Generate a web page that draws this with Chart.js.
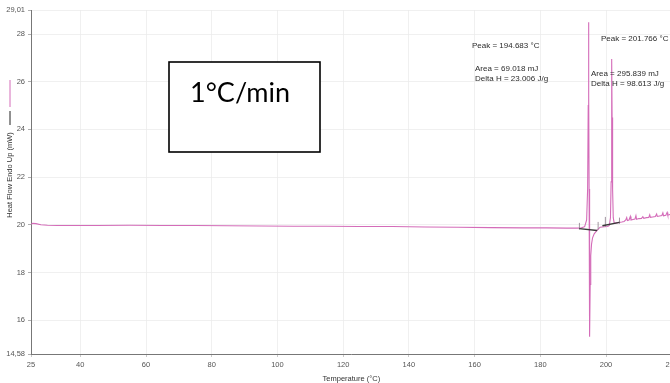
<!DOCTYPE html>
<html>
<head>
<meta charset="utf-8">
<script src="https://cdn.jsdelivr.net/npm/chart.js@4/dist/chart.umd.min.js"></script>
<style>
  html, body { margin: 0; padding: 0; background: #fff; overflow: hidden; }
  #wrap { position: relative; width: 681px; height: 383px; }
</style>
</head>
<body>
<div id="wrap"><canvas id="dsc"></canvas></div>
<script>
// DSC scan, 1 °C/min: temperature (°C) and heat flow (mW)
const temperature = [
  25, 25.5, 26.5, 28, 30, 33, 37, 45, 55, 65, 75, 85, 95, 105, 115, 125, 135, 145, 155, 165,
  175, 182, 188, 191, 192.5, 193.5, 194.1, 194.4, 194.58, 194.683, 194.76, 194.85, 194.92, 195.0, 195.08,
  195.18, 195.35, 195.6, 195.9, 196.4, 197.0, 197.5, 198.2, 199.5, 200.5, 201.0, 201.35, 201.55, 201.68, 201.766,
  201.85, 202.0, 202.2, 202.5, 203.2, 204.0, 204.8, 205.5, 206.0, 206.3, 206.5, 207.0, 207.4, 207.6, 208.2,
  208.8, 209.1, 209.3, 210.0, 210.8, 211.2, 211.5, 212.3, 213.0, 213.3, 213.5, 214.2, 215.0, 215.4, 215.6,
  216.3, 217.0, 217.3, 217.5, 218.2, 218.6, 218.8, 219.4, 220
];
const heatFlow = [
  20.02, 20.06, 20.05, 20.0, 19.98, 19.97, 19.97, 19.97, 19.98, 19.97, 19.97, 19.96, 19.95, 19.94, 19.94, 19.93, 19.93, 19.91, 19.9, 19.88,
  19.87, 19.87, 19.86, 19.86, 19.87, 19.92, 20.2, 21.5, 25.0, 28.5, 25.5, 21.5, 19.2, 17.0, 15.3,
  17.5, 18.7, 19.2, 19.45, 19.62, 19.72, 19.8, 19.9, 19.92, 19.93, 19.97, 20.3, 21.8, 24.8, 26.95,
  24.5, 21.5, 20.3, 20.06, 20.08, 20.1, 20.12, 20.14, 20.2, 20.3, 20.18, 20.2, 20.35, 20.2, 20.22,
  20.24, 20.38, 20.23, 20.26, 20.27, 20.34, 20.27, 20.3, 20.31, 20.42, 20.31, 20.33, 20.35, 20.45, 20.35,
  20.37, 20.39, 20.5, 20.38, 20.4, 20.52, 20.4, 20.43, 20.44
];

// integration baselines under the two peaks
const baseline1Temp = [191.85, 197.3];
const baseline1Flow = [19.84, 19.76];
const baseline2Temp = [198.9, 204.1];
const baseline2Flow = [19.96, 20.1];

// integration limit markers: temperature, lower and upper heat flow
const limitTemp = [191.9, 197.6, 199.8, 204.1];
const limitLow  = [19.8, 19.8, 19.92, 20.04];
const limitHigh = [20.08, 20.12, 20.33, 20.3];

// axis ticks
const xTicks = [25, 40, 60, 80, 100, 120, 140, 160, 180, 200, 220];
const yTicks = [14.58, 16, 18, 20, 22, 24, 26, 28, 29.01];
const yTickLabels = ['14,58', '16', '18', '20', '22', '24', '26', '28', '29,01'];

// peak annotations
const peakNotes = [
  { lines: ['Peak = 194.683 °C'], x: 472, y: 48 },
  { lines: ['Area = 69.018 mJ', 'Delta H = 23.006 J/g'], x: 475, y: 71 },
  { lines: ['Peak = 201.766 °C'], x: 601, y: 41 },
  { lines: ['Area = 295.839 mJ', 'Delta H = 98.613 J/g'], x: 591, y: 76 }
];
const rateLabel = '1°C/min';

const pts = (xs, ys) => xs.map((x, i) => ({ x, y: ys[i] }));

const datasets = [
  {
    data: pts(temperature, heatFlow),
    borderColor: '#d46cb9',
    borderWidth: 1.1,
    pointRadius: 0,
    tension: 0,
    order: 2
  },
  {
    data: pts(baseline1Temp, baseline1Flow),
    borderColor: '#3a3a3a',
    borderWidth: 1.4,
    pointRadius: 0,
    order: 1
  },
  {
    data: pts(baseline2Temp, baseline2Flow),
    borderColor: '#3a3a3a',
    borderWidth: 1.4,
    pointRadius: 0,
    order: 1
  }
];
limitTemp.forEach((t, i) => {
  datasets.push({
    data: [{ x: t, y: limitLow[i] }, { x: t, y: limitHigh[i] }],
    borderColor: '#8a7a88',
    borderWidth: 0.8,
    pointRadius: 0,
    order: 1
  });
});

const overlay = {
  id: 'overlay',
  afterDraw(chart) {
    const ctx = chart.ctx;
    ctx.save();
    // peak texts
    ctx.fillStyle = '#2b2b2b';
    ctx.font = '8px "Liberation Sans", Arial, sans-serif';
    ctx.textAlign = 'left';
    ctx.textBaseline = 'alphabetic';
    peakNotes.forEach(n => {
      n.lines.forEach((l, k) => ctx.fillText(l, n.x, n.y + k * 10));
    });

    // rate box
    ctx.fillStyle = '#ffffff';
    ctx.fillRect(169, 62, 151, 90);
    ctx.strokeStyle = '#000';
    ctx.lineWidth = 1.6;
    ctx.strokeRect(169, 62, 151, 90);
    ctx.fillStyle = '#000';
    ctx.font = '27px Lato, "Open Sans", sans-serif';
    ctx.fillText(rateLabel, 190, 102);

    // y-axis title with series key
    ctx.translate(10, 175);
    ctx.rotate(-Math.PI / 2);
    ctx.font = '7.5px "Liberation Sans", Arial, sans-serif';
    ctx.fillStyle = '#333';
    ctx.textAlign = 'center';
    ctx.textBaseline = 'middle';
    ctx.fillText('Heat Flow Endo Up (mW)', 0, 0);
    ctx.lineWidth = 1;
    ctx.strokeStyle = '#222';
    ctx.beginPath(); ctx.moveTo(50, 0); ctx.lineTo(64, 0); ctx.stroke();
    ctx.strokeStyle = '#d46cb9';
    ctx.beginPath(); ctx.moveTo(68, 0); ctx.lineTo(95, 0); ctx.stroke();
    ctx.restore();
  }
};

new Chart(document.getElementById('dsc'), {
  type: 'line',
  data: { datasets },
  options: {
    responsive: true,
    maintainAspectRatio: false,
    animation: false,
    layout: { padding: { top: 10, right: 0, left: 0, bottom: 0 } },
    plugins: { legend: { display: false }, tooltip: { enabled: false } },
    scales: {
      x: {
        type: 'linear',
        min: 25,
        max: 220,
        afterBuildTicks: s => { s.ticks = xTicks.map(v => ({ value: v })); },
        afterFit: s => { s.height = 29; },
        ticks: {
          color: '#555',
          font: { size: 7.5, family: '"Liberation Sans", Arial, sans-serif' },
          padding: 3,
          maxRotation: 0,
          autoSkip: false
        },
        grid: { color: '#ececec', lineWidth: 0.8, tickLength: 3, tickColor: '#bbb' },
        border: { color: '#777', width: 1 },
        title: {
          display: true,
          text: 'Temperature (°C)',
          color: '#333',
          font: { size: 7.5, family: '"Liberation Sans", Arial, sans-serif' },
          padding: { top: 0, bottom: 0 }
        }
      },
      y: {
        min: 14.58,
        max: 29.01,
        afterBuildTicks: s => { s.ticks = yTicks.map(v => ({ value: v })); },
        afterFit: s => { s.width = 31; },
        ticks: {
          color: '#555',
          font: { size: 7.5, family: '"Liberation Sans", Arial, sans-serif' },
          padding: 3,
          autoSkip: false,
          callback: (v) => {
            const i = yTicks.indexOf(v);
            return i >= 0 ? yTickLabels[i] : '';
          }
        },
        grid: { color: '#ececec', lineWidth: 0.8, tickLength: 3, tickColor: '#999' },
        border: { color: '#777', width: 1 }
      }
    }
  },
  plugins: [overlay]
});
</script>
</body>
</html>
